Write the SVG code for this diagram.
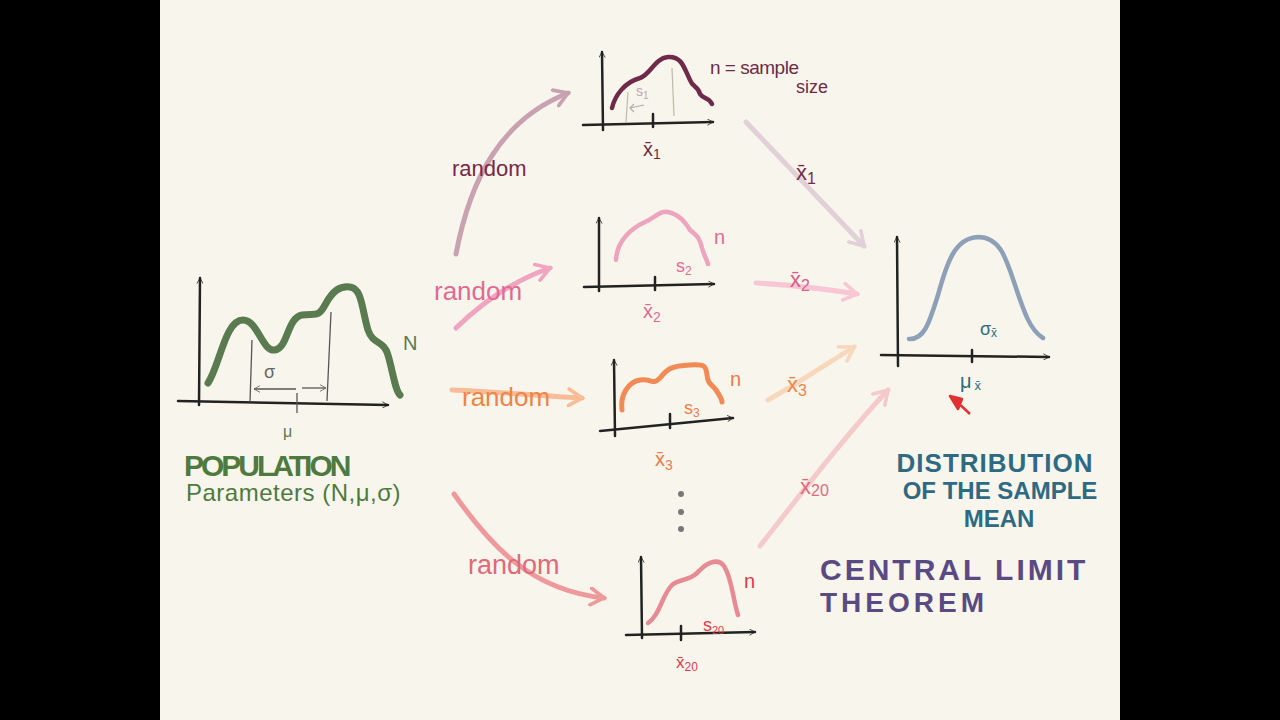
<svg xmlns="http://www.w3.org/2000/svg" width="1280" height="720" viewBox="0 0 1280 720">
<defs>
<style>
.ax{fill:none;stroke:#222;stroke-width:2.5;stroke-linecap:round}
.thin{fill:none;stroke:#555;stroke-width:1.3}
.hand{font-family:"Liberation Sans",Arial,sans-serif}
.cn{fill:none;stroke-width:5;stroke-linecap:round;stroke-linejoin:round}
</style>
<marker id="ah" viewBox="0 0 12 12" refX="10" refY="6" markerWidth="7" markerHeight="7" markerUnits="userSpaceOnUse" orient="auto"><path d="M1,1 L10,6 L1,11" fill="none" stroke="#222" stroke-width="1.4" stroke-linecap="round"/></marker>
<marker id="m1" viewBox="0 0 12 12" refX="9" refY="6" markerWidth="4" markerHeight="4" orient="auto"><path d="M1,1 L9,6 L1,11" fill="none" stroke="#c9a2b2" stroke-width="2.2" stroke-linecap="round"/></marker>
<marker id="m2" viewBox="0 0 12 12" refX="9" refY="6" markerWidth="4" markerHeight="4" orient="auto"><path d="M1,1 L9,6 L1,11" fill="none" stroke="#f0a4c0" stroke-width="2.2" stroke-linecap="round"/></marker>
<marker id="m3" viewBox="0 0 12 12" refX="9" refY="6" markerWidth="4" markerHeight="4" orient="auto"><path d="M1,1 L9,6 L1,11" fill="none" stroke="#f8bc96" stroke-width="2.2" stroke-linecap="round"/></marker>
<marker id="m4" viewBox="0 0 12 12" refX="9" refY="6" markerWidth="4" markerHeight="4" orient="auto"><path d="M1,1 L9,6 L1,11" fill="none" stroke="#ee9a9c" stroke-width="2.2" stroke-linecap="round"/></marker>
<marker id="n1" viewBox="0 0 12 12" refX="9" refY="6" markerWidth="4" markerHeight="4" orient="auto"><path d="M1,1 L9,6 L1,11" fill="none" stroke="#e2d0d8" stroke-width="2.2" stroke-linecap="round"/></marker>
<marker id="n2" viewBox="0 0 12 12" refX="9" refY="6" markerWidth="4" markerHeight="4" orient="auto"><path d="M1,1 L9,6 L1,11" fill="none" stroke="#f8c6d4" stroke-width="2.2" stroke-linecap="round"/></marker>
<marker id="n3" viewBox="0 0 12 12" refX="9" refY="6" markerWidth="4" markerHeight="4" orient="auto"><path d="M1,1 L9,6 L1,11" fill="none" stroke="#f8d8bc" stroke-width="2.2" stroke-linecap="round"/></marker>
<marker id="n4" viewBox="0 0 12 12" refX="9" refY="6" markerWidth="4" markerHeight="4" orient="auto"><path d="M1,1 L9,6 L1,11" fill="none" stroke="#f4caca" stroke-width="2.2" stroke-linecap="round"/></marker>
<marker id="sg" viewBox="0 0 12 12" refX="10" refY="6" markerWidth="8" markerHeight="8" markerUnits="userSpaceOnUse" orient="auto"><path d="M1,1 L10,6 L1,11" fill="none" stroke="#666" stroke-width="1.3"/></marker>
</defs>
<rect x="0" y="0" width="1280" height="720" fill="#000"/>
<rect x="160" y="0" width="960" height="720" fill="#f8f6ec"/>

<g id="connectors">
<path class="cn" stroke="#c9a2b2" d="M456,254 C470,180 500,120 568,93" marker-end="url(#m1)"/>
<path class="cn" stroke="#f0a4c0" d="M456,328 C485,300 515,280 550,268" marker-end="url(#m2)"/>
<path class="cn" stroke="#f8bc96" d="M452,390 C500,392 545,396 582,398" marker-end="url(#m3)"/>
<path class="cn" stroke="#ee9a9c" d="M454,494 C490,545 530,590 604,598" marker-end="url(#m4)"/>
<path class="cn" stroke="#e2d0d8" d="M746,122 L864,246" marker-end="url(#n1)"/>
<path class="cn" stroke="#f8c6d4" d="M756,283 C790,285 820,288 857,294" marker-end="url(#n2)"/>
<path class="cn" stroke="#f8d8bc" d="M768,400 C795,385 825,365 854,347" marker-end="url(#n3)"/>
<path class="cn" stroke="#f4caca" d="M760,546 C800,495 850,430 888,390" marker-end="url(#n4)"/>
<text class="hand" x="452" y="176" font-size="22" fill="#7a2848">random</text>
<text class="hand" x="434" y="300" font-size="26" fill="#e26a92">random</text>
<text class="hand" x="462" y="406" font-size="26" fill="#f08448">random</text>
<text class="hand" x="468" y="574" font-size="27" fill="#e06a7a">random</text>
<text class="hand" x="796" y="180" font-size="22" fill="#7a2848">x̄<tspan font-size="16" dy="4">1</tspan></text>
<text class="hand" x="790" y="287" font-size="22" fill="#e05a86">x̄<tspan font-size="16" dy="4">2</tspan></text>
<text class="hand" x="787" y="392" font-size="22" fill="#f08448">x̄<tspan font-size="16" dy="4">3</tspan></text>
<text class="hand" x="800" y="494" font-size="22" fill="#e06a7a">x̄<tspan font-size="16" dy="2">20</tspan></text>
</g>

<g id="population">
<path class="ax" d="M199,405 L200,278" marker-end="url(#ah)"/>
<path class="ax" d="M178,401 L388,405" marker-end="url(#ah)"/>
<path fill="none" stroke="#5a7a50" stroke-width="7" stroke-linecap="round" stroke-linejoin="round" d="M208,383 C220,365 225,320 243,320 C258,320 262,352 275,350 C288,348 287,318 302,315 C315,313 318,318 325,305 C333,290 340,286 350,287 C362,288 362,310 368,330 C373,345 384,340 388,355 C393,372 395,390 400,395"/>
<line class="thin" x1="252" y1="340" x2="250" y2="402"/>
<line class="thin" x1="331" y1="312" x2="327" y2="401"/>
<line class="thin" x1="296" y1="389" x2="254" y2="389" marker-end="url(#sg)"/>
<line class="thin" x1="302" y1="388" x2="326" y2="388" marker-end="url(#sg)"/>
<line class="thin" x1="297" y1="393" x2="297" y2="413"/>
<text class="hand" x="264" y="378" font-size="18" fill="#666">σ</text>
<text class="hand" x="283" y="437" font-size="16" fill="#5a7a50">μ</text>
<text class="hand" x="403" y="350" font-size="20" fill="#5a7a50">N</text>
<text class="hand" x="184" y="476" font-size="30" font-weight="bold" fill="#4f7a3e" letter-spacing="-3">POPULATION</text>
<text class="hand" x="186" y="501" font-size="24" fill="#4f7a3e" letter-spacing="0.5">Parameters (N,μ,σ)</text>
</g>

<g id="sample1">
<path class="ax" d="M603,130 L602,52" marker-end="url(#ah)"/>
<path class="ax" d="M583,125 L713,122" marker-end="url(#ah)"/>
<path fill="none" stroke="#6e2a48" stroke-width="4.5" stroke-linecap="round" stroke-linejoin="round" d="M612,108 C615,95 625,82 640,78 C650,75 655,58 668,57 C682,56 684,68 690,80 C693,88 698,86 700,94 C704,100 708,96 712,104"/>
<line x1="628" y1="92" x2="626" y2="122" stroke="#bba" stroke-width="1.2"/>
<line x1="672" y1="68" x2="674" y2="116" stroke="#bba" stroke-width="1.2"/>
<text class="hand" x="636" y="96" font-size="14" fill="#b8a8b0">s<tspan font-size="10" dy="3">1</tspan></text>
<path d="M644,105 L630,108 M634,104 L630,108 L634,112" fill="none" stroke="#b8a8b0" stroke-width="1.2"/>
<line class="ax" x1="653" y1="114" x2="653" y2="127" stroke-width="2"/>
<text class="hand" x="643" y="156" font-size="20" fill="#6e2a48">x̄<tspan font-size="14" dy="3">1</tspan></text>
<text class="hand" x="710" y="74" font-size="19" fill="#6e2a48" letter-spacing="-0.5">n = sample</text>
<text class="hand" x="796" y="93" font-size="18" fill="#6e2a48">size</text>
</g>

<g id="sample2">
<path class="ax" d="M599,291 L599,218" marker-end="url(#ah)"/>
<path class="ax" d="M584,287 L714,284" marker-end="url(#ah)"/>
<path fill="none" stroke="#eda4be" stroke-width="4.5" stroke-linecap="round" stroke-linejoin="round" d="M616,260 C617,240 632,228 645,222 C655,218 660,210 668,212 C680,215 685,222 690,230 C697,236 700,238 702,248 C704,255 706,258 708,264"/>
<line class="ax" x1="655" y1="277" x2="655" y2="290" stroke-width="2"/>
<text class="hand" x="676" y="272" font-size="18" fill="#e26a92">s<tspan font-size="12" dy="3">2</tspan></text>
<text class="hand" x="643" y="318" font-size="20" fill="#e26a92">x̄<tspan font-size="14" dy="4">2</tspan></text>
<text class="hand" x="714" y="244" font-size="20" fill="#e26a92">n</text>
</g>

<g id="sample3">
<path class="ax" d="M615,436 L614,360" marker-end="url(#ah)"/>
<path class="ax" d="M600,431 L733,418" marker-end="url(#ah)"/>
<path fill="none" stroke="#f28a56" stroke-width="5" stroke-linecap="round" stroke-linejoin="round" d="M622,410 C620,395 628,382 640,380 C652,378 652,386 660,378 C668,368 672,366 690,365 C705,364 706,366 707,375 C708,385 712,384 716,390 C720,396 722,400 722,402"/>
<line class="ax" x1="670" y1="414" x2="670" y2="428" stroke-width="2"/>
<text class="hand" x="684" y="414" font-size="18" fill="#f07a48">s<tspan font-size="12" dy="3">3</tspan></text>
<text class="hand" x="655" y="466" font-size="20" fill="#f07a48">x̄<tspan font-size="14" dy="4">3</tspan></text>
<text class="hand" x="730" y="386" font-size="20" fill="#f07a48">n</text>
</g>

<g id="ellipsis">
<circle cx="681" cy="494" r="3" fill="#777"/>
<circle cx="681" cy="512" r="3" fill="#777"/>
<circle cx="681" cy="529" r="3" fill="#777"/>
</g>

<g id="sample20">
<path class="ax" d="M642,638 L641,557" marker-end="url(#ah)"/>
<path class="ax" d="M626,635 L755,632" marker-end="url(#ah)"/>
<path fill="none" stroke="#e88a94" stroke-width="4.5" stroke-linecap="round" stroke-linejoin="round" d="M648,623 C660,615 662,595 672,585 C680,578 690,582 700,570 C708,562 718,558 724,566 C732,578 733,600 738,615"/>
<line class="ax" x1="681" y1="626" x2="681" y2="640" stroke-width="2"/>
<text class="hand" x="703" y="631" font-size="18" fill="#e03a4a">s<tspan font-size="11" dy="3">20</tspan></text>
<text class="hand" x="676" y="668" font-size="17" fill="#e03a4a">x̄<tspan font-size="12" dy="3">20</tspan></text>
<text class="hand" x="744" y="588" font-size="20" fill="#e03a4a">n</text>
</g>

<g id="distribution">
<path class="ax" d="M898,366 L897,237" marker-end="url(#ah)"/>
<path class="ax" d="M881,355 L1049,357" marker-end="url(#ah)"/>
<path fill="none" stroke="#8da0b8" stroke-width="4.5" stroke-linecap="round" stroke-linejoin="round" d="M909,339 C925,340 930,320 938,295 C947,262 955,238 978,237 C1000,237 1006,258 1015,285 C1024,312 1030,330 1043,338"/>
<line class="ax" x1="972" y1="350" x2="972" y2="362" stroke-width="2"/>
<text class="hand" x="980" y="335" font-size="18" fill="#2e6a82">σ<tspan font-size="12" dy="2">x̄</tspan></text>
<text class="hand" x="960" y="388" font-size="20" fill="#2e6a82">μ<tspan font-size="13" dx="3" dy="2">x̄</tspan></text>
<path d="M970,414 L955,400 M950,396 L962,399 L958,409 Z" fill="#e03030" stroke="#e03030" stroke-width="2.5" stroke-linejoin="round"/>
<text class="hand" x="995" y="472" font-size="26" font-weight="bold" fill="#2e6a82" text-anchor="middle" letter-spacing="1">DISTRIBUTION</text>
<text class="hand" x="1000" y="499" font-size="24" font-weight="bold" fill="#2e6a82" text-anchor="middle">OF THE SAMPLE</text>
<text class="hand" x="999" y="527" font-size="24" font-weight="bold" fill="#2e6a82" text-anchor="middle">MEAN</text>
</g>

<g id="clt">
<text class="hand" x="820" y="580" font-size="30" font-weight="bold" fill="#5a4a82" letter-spacing="3">CENTRAL  LIMIT</text>
<text class="hand" x="820" y="612" font-size="28" font-weight="bold" fill="#5a4a82" letter-spacing="4">THEOREM</text>
</g>
</svg>
